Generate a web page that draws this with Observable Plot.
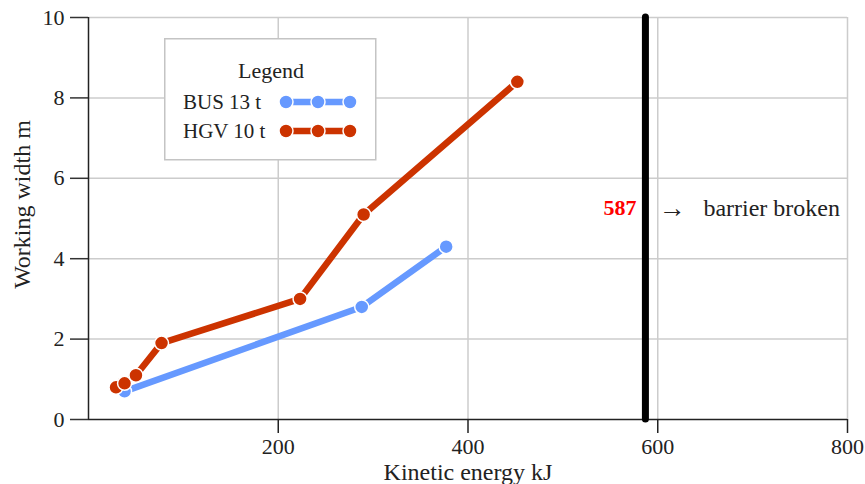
<!DOCTYPE html>
<html>
<head>
<meta charset="utf-8">
<script src="https://cdn.jsdelivr.net/npm/d3@7"></script>
<script src="https://cdn.jsdelivr.net/npm/@observablehq/plot@0.6"></script>
<style>
  body { margin: 0; background: #fff; }
  #wrap { position: relative; width: 865px; height: 484px; }
  #wrap svg, #wrap svg text { font-family: "Liberation Serif", "Times New Roman", serif; }
  #legend { position: absolute; left: 164px; top: 38px; }
</style>
</head>
<body>
<div id="wrap"></div>
<script>
// ---- data ----
const busEnergy = [38, 288, 377];
const busWidth  = [0.7, 2.8, 4.3];
const hgvEnergy = [29, 38, 50, 77, 223, 290, 452];
const hgvWidth  = [0.8, 0.9, 1.1, 1.9, 3.0, 5.1, 8.4];
const xTicks = [200, 400, 600, 800];
const yTicks = [0, 2, 4, 6, 8, 10];
const seriesNames = ["BUS 13 t", "HGV 10 t"];
const seriesColors = ["#6699ff", "#cc3300"];
const barrierEnergy = 587;
const barrierLabelY = 5.25;
const barrierText = "barrier broken";

const bus = busEnergy.map((x, i) => ({x, y: busWidth[i]}));
const hgv = hgvEnergy.map((x, i) => ({x, y: hgvWidth[i]}));

const font = "Liberation Serif";

const chart = Plot.plot({
  width: 865,
  height: 484,
  marginLeft: 88,
  marginRight: 18,
  marginTop: 17,
  marginBottom: 65,
  style: {fontFamily: font, fontSize: "21px", color: "#222", background: "#fff"},
  x: {domain: [0, 800]},
  y: {domain: [0, 10]},
  marks: [
    Plot.gridX(xTicks, {stroke: "#cccccc", strokeOpacity: 1, strokeWidth: 1.5}),
    Plot.gridY(yTicks.filter(d => d > 0), {stroke: "#cccccc", strokeOpacity: 1, strokeWidth: 1.5}),
    Plot.axisX(xTicks, {tickSize: 14, tickPadding: 5, stroke: "#222", strokeWidth: 1.5, label: null, fontSize: 22, fontFamily: font}),
    Plot.axisY(yTicks, {tickSize: 18, tickPadding: 6, stroke: "#333", strokeWidth: 1.5, label: null, fontSize: 22, fontFamily: font}),
    Plot.ruleY([0], {stroke: "#222", strokeWidth: 1.5}),
    Plot.ruleX([0], {stroke: "#222", strokeWidth: 1.5}),
    Plot.text(["Kinetic energy kJ"], {frameAnchor: "bottom", textAnchor: "middle", lineAnchor: "middle", dy: 53, fontSize: 24, fill: "#222", fontFamily: font}),
    Plot.text(["Working width m"], {frameAnchor: "left", textAnchor: "middle", lineAnchor: "middle", dx: -66, dy: -14, rotate: -90, fontSize: 24, fill: "#222", fontFamily: font}),
    Plot.ruleX([barrierEnergy], {y1: 0, y2: 10, stroke: "#000", strokeWidth: 7, strokeLinecap: "round"}),
    Plot.text([barrierEnergy], {x: d => d, y: () => barrierLabelY, text: d => String(d), textAnchor: "end", dx: -9, fill: "#ff0000", fontWeight: "bold", fontSize: 22, fontFamily: font}),
    Plot.text([barrierEnergy], {x: d => d, y: () => barrierLabelY, text: () => "→", textAnchor: "start", dx: 13, fill: "#222", fontSize: 27, fontFamily: "DejaVu Serif"}),
    Plot.text([barrierEnergy], {x: d => d, y: () => barrierLabelY, text: () => barrierText, textAnchor: "start", dx: 58, fill: "#222", fontSize: 24, fontFamily: font}),
    Plot.line(bus, {x: "x", y: "y", stroke: seriesColors[0], strokeWidth: 6.5}),
    Plot.dot(bus, {x: "x", y: "y", r: 7, fill: seriesColors[0], stroke: "#fff", strokeWidth: 1.5}),
    Plot.line(hgv, {x: "x", y: "y", stroke: seriesColors[1], strokeWidth: 6.5}),
    Plot.dot(hgv, {x: "x", y: "y", r: 7, fill: seriesColors[1], stroke: "#fff", strokeWidth: 1.5})
  ]
});
const wrap = document.getElementById("wrap");
wrap.appendChild(chart);

// ---- legend (overlay) ----
const lg = d3.select(wrap).append("div").attr("id", "legend")
  .append("svg").attr("width", 213).attr("height", 123)
  .style("font-family", font);
lg.append("rect").attr("x", 0.75).attr("y", 0.75).attr("width", 211).attr("height", 121)
  .attr("fill", "#fff").attr("stroke", "#c4c4c4").attr("stroke-width", 1.5);
lg.append("text").attr("x", 107).attr("y", 32).attr("text-anchor", "middle")
  .attr("dominant-baseline", "central").attr("font-size", 22).attr("fill", "#222").text("Legend");
seriesNames.forEach((name, i) => {
  const cy = 64 + i * 29;
  const g = lg.append("g");
  g.append("text").attr("x", 19).attr("y", cy).attr("dominant-baseline", "central")
    .attr("font-size", 21).attr("fill", "#222").text(name);
  g.append("line").attr("x1", 122).attr("x2", 186).attr("y1", cy).attr("y2", cy)
    .attr("stroke", seriesColors[i]).attr("stroke-width", 6.5);
  [122, 154, 186].forEach(cx => g.append("circle").attr("cx", cx).attr("cy", cy).attr("r", 7)
    .attr("fill", seriesColors[i]).attr("stroke", "#fff").attr("stroke-width", 1.5));
});
</script>
</body>
</html>
